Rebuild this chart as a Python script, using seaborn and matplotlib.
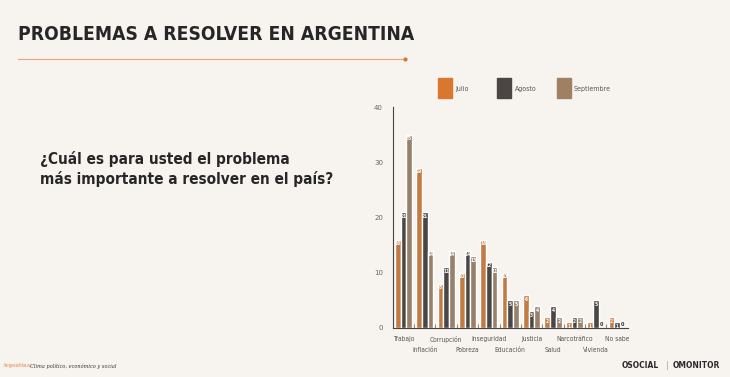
import numpy as np
import pandas as pd
import matplotlib.pyplot as plt
import seaborn as sns

categorias = ['Trabajo', 'Inflación', 'Corrupción', 'Pobreza', 'Inseguridad', 'Educación',
              'Justicia', 'Salud', 'Narcotráfico', 'Vivienda', 'No sabe']
julio = [16, 29, 8, 10, 16, 10, 6, 2, 1, 1, 2]
agosto = [21, 21, 11, 14, 12, 5, 3, 4, 2, 5, 1]
septiembre = [35, 14, 14, 13, 11, 5, 4, 2, 2, 0, 0]
meses = ['Julio', 'Agosto', 'Septiembre']
colores = ['#d9772f', '#4b4543', '#a08062']

df = pd.DataFrame({'categoria': categorias * 3,
                   'mes': np.repeat(meses, len(categorias)),
                   'valor': julio + agosto + septiembre})

bg = '#f7f4ef'
sns.set_style('white')
plt.rcParams['font.family'] = ['DejaVu Sans']

fig = plt.figure(figsize=(7.3, 3.77), dpi=100, facecolor=bg)
ax = fig.add_axes([0.538, 0.130, 0.322, 0.586], facecolor=bg)

sns.barplot(data=df, x='categoria', y='valor', hue='mes', palette=colores,
            order=categorias, hue_order=meses, width=0.8, ax=ax, legend=False)

# value labels inside bars
for cont in ax.containers:
    for p in cont:
        h = p.get_height()
        xc = p.get_x() + p.get_width() / 2
        if h >= 1:
            ax.text(xc, h - 0.3, f'{int(h)}', ha='center', va='top', fontsize=3.5,
                    color='white', fontweight='bold', stretch='condensed')
        else:
            ax.text(xc, 0.2, '0', ha='center', va='bottom', fontsize=3.5,
                    color='#333333', fontweight='bold')

ax.set_xlim(-0.5, len(categorias) - 0.5)
ax.set_ylim(0, 40)
ax.set_yticks([0, 10, 20, 30, 40])

# staggered category labels: even ones on the major ticks, odd ones on minor ticks
pos = np.arange(len(categorias))
ax.set_xticks(pos[::2])
ax.set_xticklabels(categorias[::2], fontsize=4.8, stretch='condensed')
ax.set_xticks(pos[1::2], minor=True)
ax.set_xticklabels(categorias[1::2], minor=True, fontsize=4.8, stretch='condensed')
ax.tick_params(axis='x', which='major', length=0, labelcolor='#555555', pad=6)
ax.tick_params(axis='x', which='minor', length=0, labelcolor='#555555', pad=14)

# small inward ticks between groups
sec = ax.secondary_xaxis('bottom')
sec.set_xticks(np.arange(0.5, len(categorias) - 0.5, 1))
sec.set_xticklabels([])
sec.tick_params(axis='x', length=3, direction='in', color='#777777', width=0.6)
sec.spines['bottom'].set_visible(False)

ax.tick_params(axis='y', length=4, width=0.6, color='#444444', labelsize=5, labelcolor='#666666', pad=3)
ax.set_xlabel('')
ax.set_ylabel('')
for s in ['top', 'right']:
    ax.spines[s].set_visible(False)
for s in ['left', 'bottom']:
    ax.spines[s].set_color('#444444')
    ax.spines[s].set_linewidth(0.8)

# legend squares
for i, (m, c) in enumerate(zip(meses, colores)):
    x0 = 438 / 730 + i * 59.5 / 730
    fig.patches.append(plt.Rectangle((x0, 1 - 98 / 377), 14 / 730, 20 / 377,
                                     transform=fig.transFigure, color=c))
    fig.text(x0 + 17 / 730, 1 - 89 / 377, m, fontsize=5, stretch='condensed',
             color='#555555', va='center')

# title and subtitle
fig.text(18 / 730, 1 - 34 / 377, 'PROBLEMAS A RESOLVER EN ARGENTINA', fontsize=13.8,
         fontweight='bold', stretch='condensed', color='#262626', va='center')
fig.add_artist(plt.Line2D([18 / 730, 405 / 730], [1 - 59 / 377, 1 - 59 / 377],
                          color='#e9a47a', linewidth=0.8, transform=fig.transFigure))
fig.add_artist(plt.Line2D([405 / 730], [1 - 59 / 377], marker='o', markersize=2,
                          color='#d9772f', transform=fig.transFigure))
fig.text(40 / 730, 1 - 169 / 377, '¿Cuál es para usted el problema\nmás importante a resolver en el país?',
         fontsize=11, fontweight='bold', stretch='condensed', color='#262626', va='center',
         linespacing=1.3)

# footer
fig.text(2 / 730, 1 - 366 / 377, 'Argentina:', fontsize=3.6, color='#e9a47a',
         family='DejaVu Serif', fontweight='bold', va='center')
fig.text(30 / 730, 1 - 366 / 377, 'Clima político, económico y social', fontsize=3.6,
         color='#333333', family='DejaVu Serif', style='italic', va='center')
fig.text(622 / 730, 1 - 366 / 377, 'OSOCIAL', fontsize=6, fontweight='bold',
         stretch='condensed', color='#2a2a2a', va='center')
fig.text(666 / 730, 1 - 366 / 377, '|', fontsize=6, color='#aaaaaa', va='center')
fig.text(673 / 730, 1 - 366 / 377, 'OMONITOR', fontsize=6, fontweight='bold',
         stretch='condensed', color='#2a2a2a', va='center')

fig.savefig('out.png', dpi=100, facecolor=bg)
